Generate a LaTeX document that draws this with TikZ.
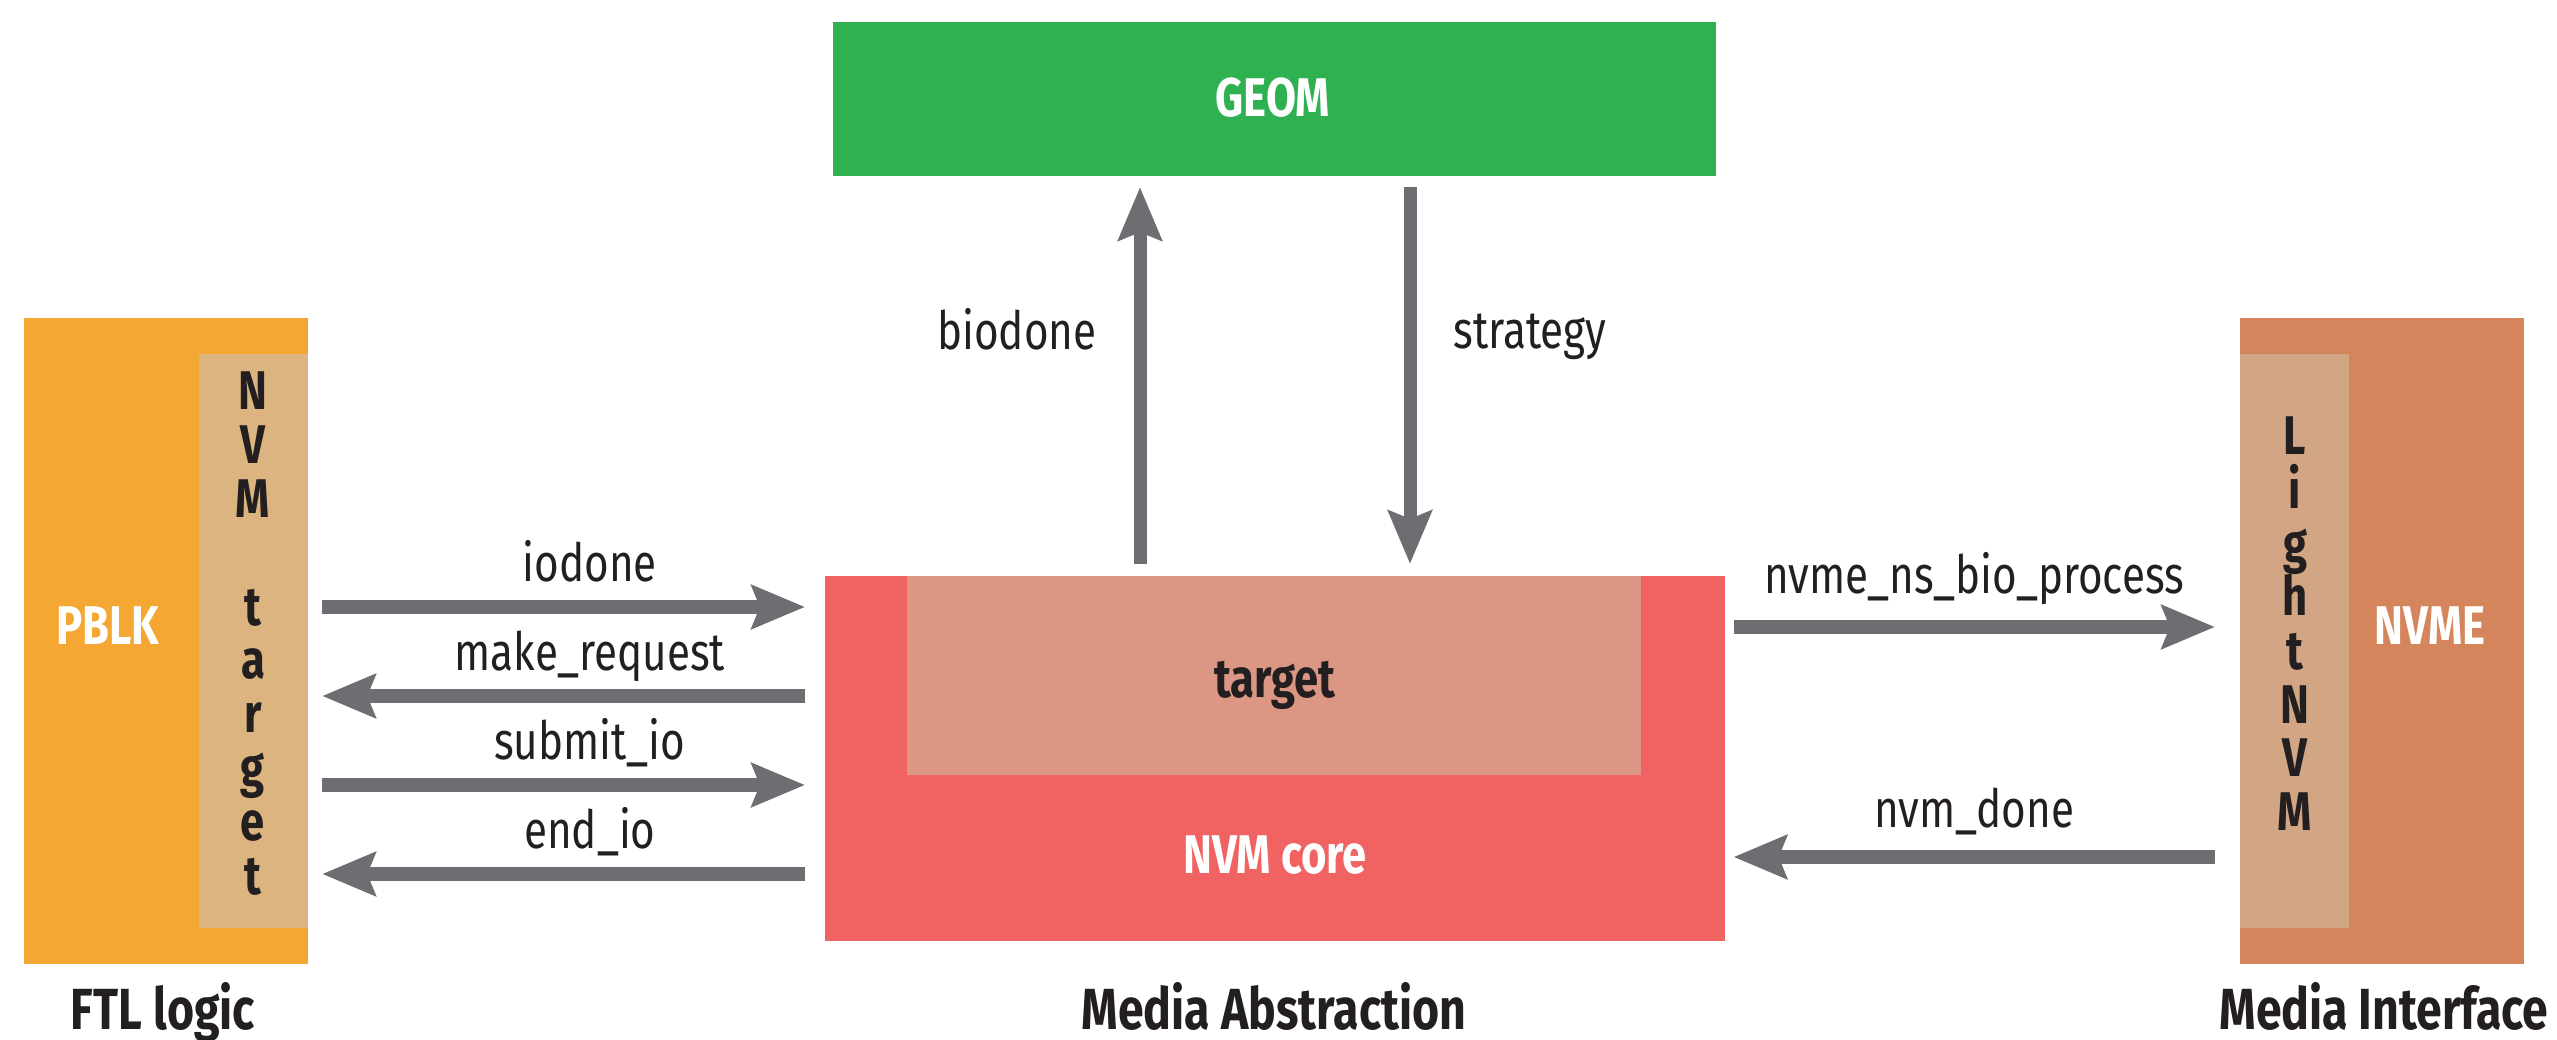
\documentclass[tikz,border=0pt]{standalone}
\usepackage{fontspec}
\setmainfont{Fira Sans}[FakeStretch=0.8]
\usetikzlibrary{arrows.meta}
\definecolor{ftlorange}{HTML}{F5A733}
\definecolor{ftltan}{HTML}{DBB47F}
\definecolor{geomgreen}{HTML}{2FB152}
\definecolor{corered}{HTML}{F06362}
\definecolor{targetpink}{HTML}{DB9784}
\definecolor{nvmeorange}{HTML}{D5855C}
\definecolor{lnvmtan}{HTML}{D2A584}
\definecolor{arrowgray}{HTML}{6D6E71}
\definecolor{inkdark}{HTML}{231F20}

\begin{document}
\begin{tikzpicture}[x = 0.01cm, y = -0.01cm,
  box/.style = {inner sep = 0, outer sep = 0, anchor = north west},
  flow/.style = {draw = arrowgray, line width = 0.13cm,
    -{Stealth[length = 0.53cm, width = 0.43cm, inset = 0.08cm]}},
  lbl/.style = {font = \fontsize{15}{18}\selectfont, text = inkdark, anchor = base, inner sep = 0},
  bold/.style = {font = \fontsize{15.5}{18}\selectfont\bfseries, anchor = base, inner sep = 0},
  vlet/.style = {bold, text = inkdark},
  title/.style = {font = \fontsize{16.5}{20}\selectfont\bfseries, text = inkdark, anchor = base, inner sep = 0}]
\useasboundingbox (0,0) rectangle (2557,1040);
% FTL logic
\node[box, fill = ftlorange, minimum width = 2.84cm, minimum height = 6.46cm] (pblk) at (24,318) {};
\node[box, fill = ftltan, minimum width = 1.09cm, minimum height = 5.74cm] (nvmtgt) at (199,354) {};
\node[bold, white] (pblklabel) at (108,644) {PBLK};
\foreach \ch / \k in {N/0,V/1,M/2,t/4,a/5,r/6,g/7,e/8,t/9}
{
	\node[vlet] (nt\k) at (253, {410 + 53.8*\k}) {\ch};
}
% media abstraction
\node[box, fill = geomgreen, minimum width = 8.82cm, minimum height = 1.54cm] (geom) at (833,22) {};
\node[bold, white] (geomlabel) at (1273,117) {GEOM};
\node[box, fill = corered, minimum width = 8.99cm, minimum height = 3.65cm] (nvmcore) at (825,576) {};
\node[box, fill = targetpink, minimum width = 7.34cm, minimum height = 1.99cm] (tgt) at (907,576) {};
\node[bold, text = inkdark] (tgtlabel) at (1275,697) {target};
\node[bold, white] (corelabel) at (1275,873) {NVM core};
% media interface
\node[box, fill = nvmeorange, minimum width = 2.84cm, minimum height = 6.46cm] (nvme) at (2240,318) {};
\node[box, fill = lnvmtan, minimum width = 1.09cm, minimum height = 5.74cm] (lnvm) at (2240,354) {};
\node[bold, white] (nvmelabel) at (2430,644) {NVME};
\foreach \ch / \k in {L/0,i/1,g/2,h/3,t/4,N/5,V/6,M/7}
{
	\node[vlet] (ln\k) at (2295, {455 + 53.6*\k}) {\ch};
}
% calls between FTL and core
\foreach \yy / \txt / \dir in {607/iodone/1, 696/make\_request/0, 785/submit\_io/1, 874/end\_io/0}
{
	\ifnum\dir = 1
		\draw[flow, shorten <= 0.14cm, shorten >= 0.2cm] (pblk.east |- 0,\yy) -- node[lbl, pos = 0.545, yshift = 0.25cm] (lab\yy) {\txt} (nvmcore.west |- 0,\yy);
	\else
		\draw[flow, shorten <= 0.2cm, shorten >= 0.14cm] (nvmcore.west |- 0,\yy) -- node[lbl, pos = 0.455, yshift = 0.25cm] (lab\yy) {\txt} (pblk.east |- 0,\yy);
	\fi
}
% GEOM
\draw[flow, shorten <= 0.12cm, shorten >= 0.11cm] (nvmcore.north -| 1140,0) -- node[lbl, pos = 0.5675, anchor = base east, xshift = -0.37cm] (labbio) {biodone} (geom.south -| 1140,0);
\draw[flow, shorten <= 0.11cm, shorten >= 0.12cm] (geom.south -| 1410,0) -- node[lbl, pos = 0.43, anchor = base west, xshift = 0.37cm] (labstrat) {strategy} (nvmcore.north -| 1410,0);
% NVME
\draw[flow, shorten <= 0.09cm, shorten >= 0.25cm] (nvmcore.east |- 0,627) -- node[lbl, pos = 0.4845, yshift = 0.33cm] (labns) {nvme\_ns\_bio\_process} (nvme.west |- 0,627);
\draw[flow, shorten <= 0.25cm, shorten >= 0.09cm] (nvme.west |- 0,857) -- node[lbl, pos = 0.5155, yshift = 0.29cm] (labdone) {nvm\_done} (nvmcore.east |- 0,857);
% layer titles
\node[title] (ftltitle) at (163,1029) {FTL logic};
\node[title] (abstitle) at (1274,1029) {Media Abstraction};
\node[title] (ifctitle) at (2384,1029) {Media Interface};
\end{tikzpicture}
\end{document}
